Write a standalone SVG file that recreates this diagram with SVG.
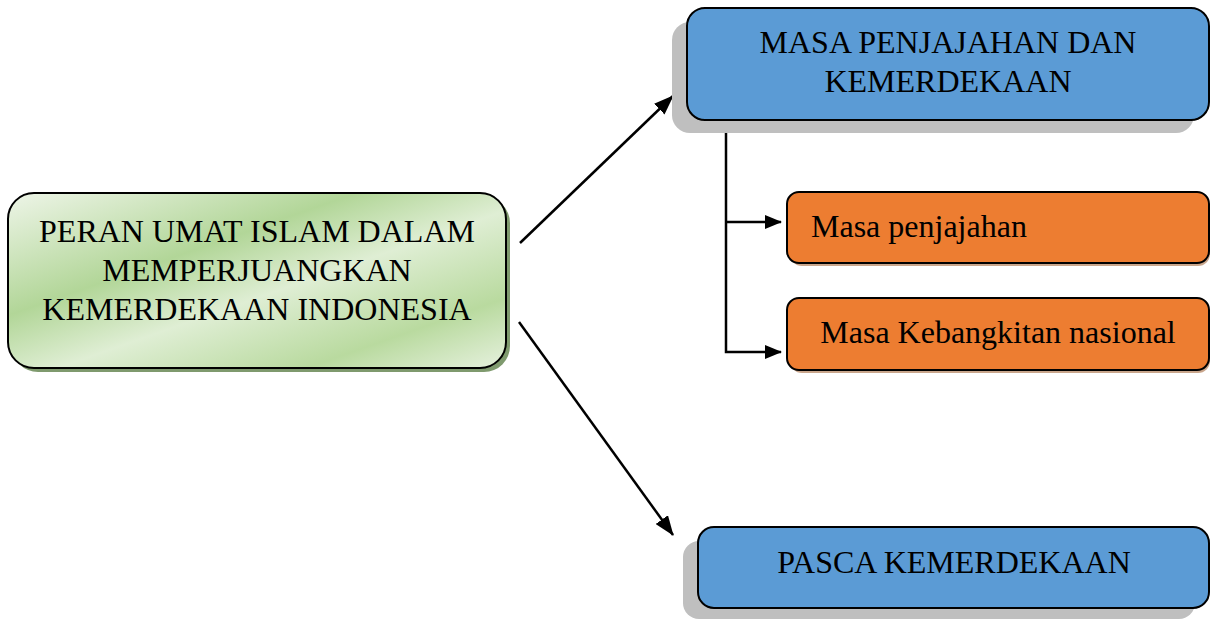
<svg xmlns="http://www.w3.org/2000/svg" width="1210" height="619" viewBox="0 0 1210 619">
<defs>
<linearGradient id="g" x1="0" y1="0" x2="1" y2="1">
<stop offset="0" stop-color="#eef5e8"/>
<stop offset="0.35" stop-color="#b2d698"/>
<stop offset="0.55" stop-color="#dfeed4"/>
<stop offset="0.8" stop-color="#b9da9f"/>
<stop offset="1" stop-color="#e6f1de"/>
</linearGradient>
<marker id="ah" viewBox="0 0 17 14" refX="16" refY="7" markerWidth="17" markerHeight="14" markerUnits="userSpaceOnUse" orient="auto">
<path d="M0,0 L17,7 L0,14 z" fill="#000"/>
</marker>
<marker id="ah2" viewBox="0 0 20 15" refX="19" refY="7.5" markerWidth="20" markerHeight="15" markerUnits="userSpaceOnUse" orient="auto">
<path d="M0,0 L20,7.5 L0,15 z" fill="#000"/>
</marker>
</defs>
<style>
text{font-family:"Liberation Serif","Times New Roman",serif;font-size:32px;fill:#000}
.box{stroke:#000;stroke-width:2}
.blue{fill:#5b9bd5}
.orange{fill:#ed7d31}
.gsh{fill:#bfbfbf}
.osh{fill:#c9a68c}
.line{stroke:#000;stroke-width:2.5;fill:none}
</style>
<g id="connectors">
<line class="line" x1="520" y1="243" x2="673" y2="96" marker-end="url(#ah2)"/>
<line class="line" x1="519" y1="322" x2="673" y2="535" marker-end="url(#ah2)"/>
<polyline class="line" points="726,121 726,352 781,352" marker-end="url(#ah)"/>
<line class="line" x1="726" y1="222" x2="781" y2="222" marker-end="url(#ah)"/>
</g>
<g id="node-main">
<rect x="12" y="197" width="498" height="175" rx="26" fill="#7f9a6e"/>
<rect class="box" x="8" y="193" width="498" height="175" rx="26" fill="url(#g)"/>
<text x="257" y="242" text-anchor="middle">PERAN UMAT ISLAM DALAM</text>
<text x="257" y="281" text-anchor="middle">MEMPERJUANGKAN</text>
<text x="257" y="320" text-anchor="middle">KEMERDEKAAN INDONESIA</text>
</g>
<g id="node-masa">
<rect class="gsh" x="672" y="22" width="522" height="111" rx="18"/>
<rect class="box blue" x="687" y="8" width="522" height="112" rx="18"/>
<text x="948" y="53" text-anchor="middle">MASA PENJAJAHAN DAN</text>
<text x="948" y="92" text-anchor="middle">KEMERDEKAAN</text>
</g>
<g id="node-penjajahan">
<rect class="osh" x="790" y="195" width="420" height="71" rx="12"/>
<rect class="box orange" x="787" y="192" width="422" height="71" rx="12"/>
<text x="811" y="237">Masa penjajahan</text>
</g>
<g id="node-kebangkitan">
<rect class="osh" x="790" y="301" width="420" height="72" rx="12"/>
<rect class="box orange" x="787" y="298" width="422" height="72" rx="12"/>
<text x="998" y="343" text-anchor="middle">Masa Kebangkitan nasional</text>
</g>
<g id="node-pasca">
<rect class="gsh" x="683" y="541" width="512" height="78" rx="16"/>
<rect class="box blue" x="698" y="527" width="511" height="81" rx="16"/>
<text x="954" y="573" text-anchor="middle">PASCA KEMERDEKAAN</text>
</g>
</svg>
